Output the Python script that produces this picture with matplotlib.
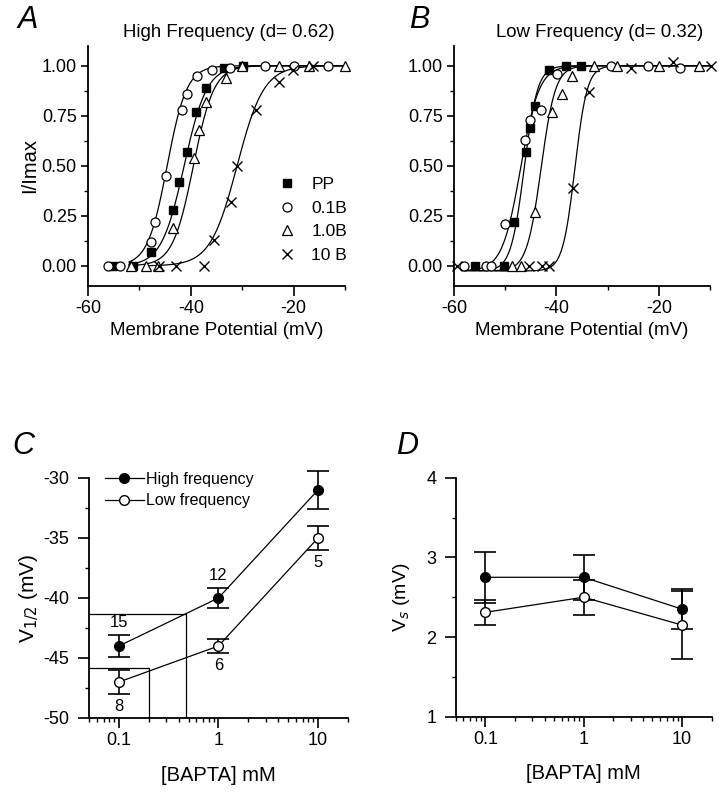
import numpy as np
import matplotlib
matplotlib.use('Agg')
import matplotlib.pyplot as plt
from matplotlib.ticker import MultipleLocator, FuncFormatter

plt.rcParams['font.family'] = ['Liberation Sans', 'DejaVu Sans']
plt.rcParams['axes.unicode_minus'] = False
plt.rcParams['font.size'] = 11

# ---- panel A : high frequency (d = 0.62) ----
a_pp_v = [-55.2, -51.3, -47.8, -43.5, -42.3, -40.8, -39.0, -37.1, -33.5, -29.8]
a_pp_i = [0.0, 0.0, 0.07, 0.28, 0.42, 0.57, 0.77, 0.89, 0.99, 1.0]
a_01_v = [-56.1, -53.8, -47.7, -46.9, -44.8, -41.7, -40.7, -38.8, -35.8, -32.3, -25.6, -19.9, -13.4]
a_01_i = [0.0, 0.0, 0.12, 0.22, 0.45, 0.78, 0.86, 0.95, 0.98, 0.99, 1.0, 1.0, 1.0]
a_10_v = [-51.6, -48.7, -46.4, -43.5, -39.3, -38.4, -37.0, -33.1, -30.1, -22.9, -17.1, -10.0]
a_10_i = [0.0, 0.0, 0.0, 0.19, 0.54, 0.68, 0.82, 0.94, 1.0, 1.0, 1.0, 1.0]
a_100_v = [-46.1, -42.8, -37.4, -35.4, -32.2, -31.1, -27.3, -22.9, -20.1, -16.2]
a_100_i = [0.0, 0.0, 0.0, 0.13, 0.32, 0.50, 0.78, 0.92, 0.98, 1.0]

# ---- panel B : low frequency (d = 0.32) ----
b_pp_v = [-56.0, -50.2, -48.2, -45.9, -45.1, -44.1, -41.5, -38.2, -35.2]
b_pp_i = [0.0, 0.0, 0.22, 0.57, 0.69, 0.80, 0.98, 1.0, 1.0]
b_01_v = [-58.0, -53.7, -52.7, -50.0, -46.1, -45.1, -43.1, -39.9, -29.4, -22.2, -15.8]
b_01_i = [0.0, 0.0, 0.0, 0.21, 0.63, 0.73, 0.78, 0.96, 1.0, 1.0, 0.99]
b_10_v = [-48.6, -46.9, -44.1, -40.8, -38.9, -36.9, -32.7, -28.1, -19.9, -12.1]
b_10_i = [0.0, 0.0, 0.27, 0.77, 0.86, 0.95, 1.0, 1.0, 1.0, 1.0]
b_100_v = [-59.4, -45.3, -42.9, -41.4, -36.7, -33.7, -25.5, -17.3, -9.8]
b_100_i = [0.0, 0.0, 0.0, 0.0, 0.39, 0.87, 0.99, 1.02, 1.0]

# Boltzmann fit parameters (PP, 0.1B, 1.0B, 10 B)
a_vhalf = [-41.3, -44.6, -39.5, -31.0]
a_slope = [2.2, 1.9, 2.0, 2.6]
a_start = [-52, -52, -52, -48]
b_vhalf = [-46.3, -47.0, -43.0, -36.4]
b_slope = [1.3, 1.8, 1.4, 1.2]
b_start = [-58, -58, -55, -52]

labels = ['PP', '0.1B', '1.0B', '10 B']

# ---- panels C / D ----
bapta = [0.1, 1, 10]
c_high = [-44.0, -40.0, -31.0]
c_high_err = [0.9, 0.8, 1.6]
c_low = [-47.0, -44.0, -35.0]
c_low_err = [1.0, 0.6, 1.0]
c_high_n = ['15', '12', '8']
c_low_n = ['8', '6', '5']
guide_x = [0.47, 0.2]
guide_y = [-41.3, -45.8]

d_high = [2.75, 2.75, 2.35]
d_high_err = [0.32, 0.28, 0.25]
d_low = [2.31, 2.50, 2.15]
d_low_err = [0.16, 0.22, 0.43]

TICK = 13
LAB = 13.5


def boltz(v, vh, k, base=0.0):
    return base + (1 - base) / (1 + np.exp((vh - v) / k))


def style(ax, ylen=5, ypad=3):
    for s in ['top', 'right']:
        ax.spines[s].set_visible(False)
    for s in ['left', 'bottom']:
        ax.spines[s].set_linewidth(1.3)
    ax.tick_params(which='major', width=1.2, labelsize=TICK)
    ax.tick_params(which='minor', length=3, width=1.0)
    ax.tick_params(axis='x', which='major', length=7, pad=3)
    ax.tick_params(axis='y', which='major', length=ylen, pad=ypad)


fig = plt.figure(figsize=(7.2, 7.93), dpi=100)

axA = fig.add_axes([0.1222, 0.6394, 0.357, 0.3030])
axB = fig.add_axes([0.6306, 0.6394, 0.3556, 0.3030])
axC = fig.add_axes([0.1236, 0.0946, 0.3597, 0.3027])
axD = fig.add_axes([0.6329, 0.0962, 0.3556, 0.3014])

mk = [dict(marker='s', mfc='black', mec='black', ms=6),
      dict(marker='o', mfc='white', mec='black', ms=6.5, mew=0.9),
      dict(marker='^', mfc='white', mec='black', ms=7, mew=0.9),
      dict(marker='x', color='black', ms=7, mew=1.0)]

a_sets = [(a_pp_v, a_pp_i), (a_01_v, a_01_i), (a_10_v, a_10_i), (a_100_v, a_100_i)]
b_sets = [(b_pp_v, b_pp_i), (b_01_v, b_01_i), (b_10_v, b_10_i), (b_100_v, b_100_i)]

for ax, sets, vh, sl, st, base in [(axA, a_sets, a_vhalf, a_slope, a_start, 0.0),
                                    (axB, b_sets, b_vhalf, b_slope, b_start, -0.025)]:
    for i, (v, y) in enumerate(sets):
        vv = np.linspace(st[i], -10, 300)
        ax.plot(vv, boltz(vv, vh[i], sl[i], base), color='black', lw=0.9, zorder=2)
    for i, (v, y) in enumerate(sets):
        ax.plot(v, y, ls='none', label=labels[i], zorder=3, clip_on=False, **mk[i])
    style(ax)
    ax.set_xlim(-60, -10)
    ax.set_ylim(-0.1, 1.1)
    ax.xaxis.set_major_locator(MultipleLocator(20))
    ax.xaxis.set_minor_locator(MultipleLocator(10))
    ax.yaxis.set_major_locator(MultipleLocator(0.25))
    ax.yaxis.set_minor_locator(MultipleLocator(0.125))
    ax.yaxis.set_major_formatter(FuncFormatter(lambda y, p: '%.2f' % y))
    ax.set_xlabel('Membrane Potential (mV)', fontsize=LAB, labelpad=4)

axA.set_ylabel('I/Imax', fontsize=14.5, labelpad=2)
axA.legend(loc='upper left', bbox_to_anchor=(0.74, 0.455), frameon=False,
           borderpad=0, borderaxespad=0, handletextpad=0.9, labelspacing=0.5,
           fontsize=12.5, handlelength=1.0)

fig.text(0.318, 0.959, 'High Frequency (d= 0.62)', ha='center', va='center', fontsize=13.4)
fig.text(0.833, 0.959, 'Low Frequency (d= 0.32)', ha='center', va='center', fontsize=13.4)

# ---- C ----
axC.plot([0.05, guide_x[0], guide_x[0]], [guide_y[0], guide_y[0], -50], color='black', lw=0.9)
axC.plot([0.05, guide_x[1], guide_x[1]], [guide_y[1], guide_y[1], -50], color='black', lw=0.9)
axC.errorbar(bapta, c_high, yerr=c_high_err, color='black', lw=0.9, elinewidth=1.2,
             capsize=8, capthick=1.2, marker='o', ms=7, mfc='black', mec='black',
             label='High frequency', clip_on=False, zorder=3)
axC.errorbar(bapta, c_low, yerr=c_low_err, color='black', lw=0.9, elinewidth=1.2,
             capsize=8, capthick=1.2, marker='o', ms=7, mfc='white', mec='black',
             label='Low frequency', clip_on=False, zorder=3)
for x, y, e, n in zip(bapta, c_high, c_high_err, c_high_n):
    axC.annotate(n, (x, y + e), xytext=(0, 9), textcoords='offset points',
                 ha='center', va='center', fontsize=12)
for x, y, e, n in zip(bapta, c_low, c_low_err, c_low_n):
    axC.annotate(n, (x, y - e), xytext=(0, -9), textcoords='offset points',
                 ha='center', va='center', fontsize=12)
axC.set_ylim(-50, -30)
axC.yaxis.set_major_locator(MultipleLocator(5))
axC.yaxis.set_minor_locator(MultipleLocator(2.5))
axC.set_ylabel('V$_{1/2}$ (mV)', fontsize=15, labelpad=2)
handles, labs = axC.get_legend_handles_labels()
axC.legend([h[0] for h in handles], labs, loc='upper left', bbox_to_anchor=(0.06, 1.025),
           frameon=False, borderpad=0, borderaxespad=0, handletextpad=0.1,
           handlelength=2.5, labelspacing=0.4, fontsize=11.5)

# ---- D ----
axD.errorbar(bapta, d_high, yerr=d_high_err, color='black', lw=0.9, elinewidth=1.2,
             capsize=8, capthick=1.2, marker='o', ms=7, mfc='black', mec='black', zorder=3)
axD.errorbar(bapta, d_low, yerr=d_low_err, color='black', lw=0.9, elinewidth=1.2,
             capsize=8, capthick=1.2, marker='o', ms=7, mfc='white', mec='black', zorder=3)
axD.set_ylim(1, 4)
axD.yaxis.set_major_locator(MultipleLocator(1))
axD.yaxis.set_minor_locator(MultipleLocator(0.5))
axD.set_ylabel('V$_s$ (mV)', fontsize=14, labelpad=10)

for ax in (axC, axD):
    ax.set_xscale('log')
    ax.set_xlim(0.05, 20)
    style(ax, ylen=8, ypad=6)
    ax.xaxis.set_major_formatter(FuncFormatter(lambda x, p: '%g' % x))
    ax.set_xlabel('[BAPTA] mM', fontsize=14.5, labelpad=12)

for lab, x, y in [('A', 0.038, 0.975), ('B', 0.582, 0.975), ('C', 0.032, 0.437), ('D', 0.565, 0.437)]:
    fig.text(x, y, lab, fontsize=22, style='italic', ha='center', va='center')

fig.savefig('out.png', dpi=100)
